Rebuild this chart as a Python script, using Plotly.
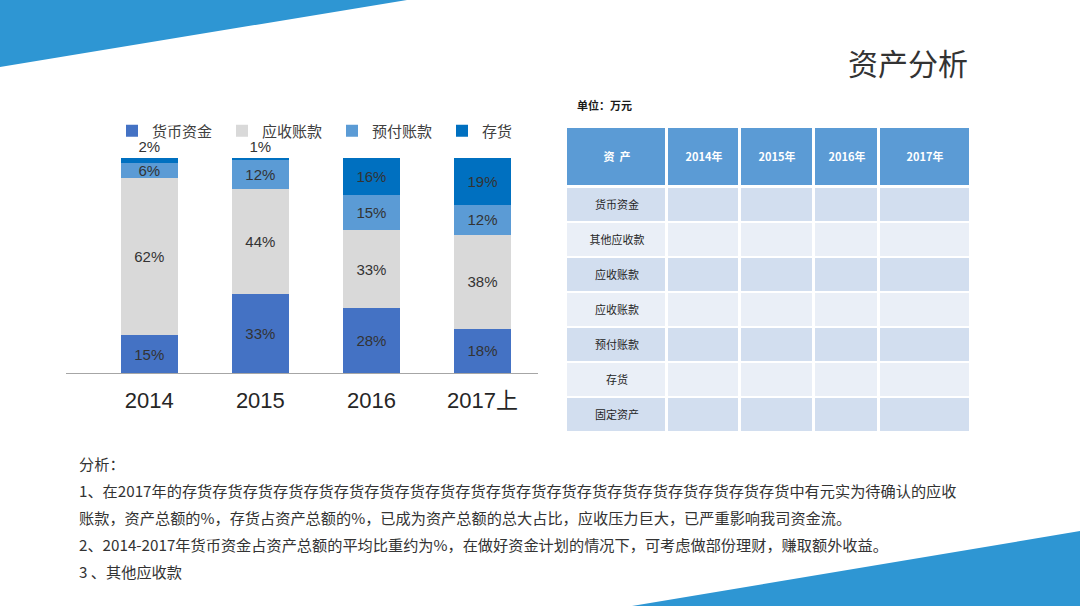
import plotly.graph_objects as go

# 柱状图数据（各项占比，%）
years = ["2014", "2015", "2016", "2017上"]
cash = [15, 33, 28, 18]          # 货币资金
receivable = [62, 44, 33, 38]    # 应收账款
prepaid = [6, 12, 15, 12]        # 预付账款
stock = [2, 1, 16, 19]           # 存货

series_names = ["货币资金", "应收账款", "预付账款", "存货"]
series_colors = ["#4472C4", "#D9D9D9", "#5B9BD5", "#0070C0"]

# 表格数据
table_header = ["资  产", "2014年", "2015年", "2016年", "2017年"]
table_rows = ["货币资金", "其他应收款", "应收账款", "应收账款", "预付账款", "存货", "固定资产"]

# 表格尺寸（像素）
col_widths = [101, 73, 74, 65, 92]
header_h = 60
row_h = 35

# 文字说明
notes = [
    "分析：",
    "1、在2017年的" + "存货" * 20 + "中有元实为待确认的应收",
    "账款，资产总额的%，存货占资产总额的%，已成为资产总额的总大占比，应收压力巨大，已严重影响我司资金流。",
    "2、2014-2017年货币资金占资产总额的平均比重约为%，在做好资金计划的情况下，可考虑做部份理财，赚取额外收益。",
    "3 、其他应收款",
]

W, H = 1080, 606


def px_x(v):
    return v / W


def px_y(v):
    return 1 - v / H


fig = go.Figure()

all_values = [cash, receivable, prepaid, stock]
for name, vals, color in zip(series_names, all_values, series_colors):
    if name == "存货":
        pos = ["outside" if v < 5 else "inside" for v in vals]
    else:
        pos = "inside"
    fig.add_trace(go.Bar(
        x=years, y=vals, name=name,
        marker=dict(color=color, line=dict(width=0)),
        width=0.51,
        text=[f"{v}%" for v in vals],
        textposition=pos,
        insidetextanchor="middle",
        textangle=0,
        textfont=dict(size=15, color="#333333", family="Liberation Sans, Arial, sans-serif"),
        cliponaxis=False,
        hoverinfo="skip",
    ))

# 表格：用热力图画单元格，文字居中
x_edges = [0]
for w in col_widths:
    x_edges.append(x_edges[-1] + w)
y_head = [0, header_h]
y_body = [header_h + row_h * i for i in range(len(table_rows) + 1)]

fig.add_trace(go.Heatmap(
    x=x_edges, y=y_head, z=[[0] * len(table_header)],
    text=[["<b>" + t + "</b>" for t in table_header]],
    texttemplate="%{text}",
    textfont=dict(size=11, color="white", family="Noto Sans CJK SC"),
    colorscale=[[0, "#5B9BD5"], [1, "#5B9BD5"]], zmin=0, zmax=1,
    showscale=False, xgap=3, ygap=3, hoverinfo="skip",
    xaxis="x2", yaxis="y2", showlegend=False,
))
fig.add_trace(go.Heatmap(
    x=x_edges, y=y_body,
    z=[[i % 2] * len(table_header) for i in range(len(table_rows))],
    text=[[r, "", "", "", ""] for r in table_rows],
    texttemplate="%{text}",
    textfont=dict(size=11, color="#262626", family="Noto Sans CJK SC"),
    colorscale=[[0, "#D2DEEF"], [1, "#EAEFF7"]], zmin=0, zmax=1,
    showscale=False, xgap=3, ygap=2, hoverinfo="skip",
    xaxis="x2", yaxis="y2", showlegend=False,
))

fig.update_layout(
    width=W, height=H,
    margin=dict(l=0, r=0, t=0, b=0),
    paper_bgcolor="white", plot_bgcolor="white",
    barmode="stack", barnorm="percent",
    font=dict(family="Liberation Sans, Noto Sans CJK SC, sans-serif", color="#404040"),
    uniformtext=dict(minsize=15, mode="show"),
    showlegend=True,
    legend=dict(
        orientation="h", x=px_x(112), xanchor="left", y=px_y(131), yanchor="middle",
        font=dict(size=15, color="#404040", family="Noto Sans CJK SC"),
        entrywidth=65, entrywidthmode="pixels",
        bgcolor="rgba(0,0,0,0)", traceorder="normal",
    ),
    xaxis=dict(
        domain=[px_x(66), px_x(538)],
        range=[-0.75, 3.5],
        showline=True, linecolor="#A6A6A6", linewidth=1,
        ticks="", tickfont=dict(size=22, color="#262626"),
        ticklabelstandoff=8,
        showgrid=False, zeroline=False, fixedrange=True,
    ),
    yaxis=dict(
        domain=[px_y(373), px_y(140.8)],
        range=[0, 108],
        visible=False, fixedrange=True,
    ),
    xaxis2=dict(
        domain=[px_x(566), px_x(971)], anchor="y2",
        range=[0, x_edges[-1]], visible=False, fixedrange=True,
    ),
    yaxis2=dict(
        domain=[px_y(432), px_y(127)], anchor="x2",
        range=[y_body[-1], 0], visible=False, fixedrange=True,
    ),
    shapes=[
        dict(type="path", xref="paper", yref="paper", layer="below",
             path=f"M 0 1 L {px_x(407)} 1 L 0 {px_y(67)} Z",
             fillcolor="#2E96D3", line=dict(width=0)),
        dict(type="path", xref="paper", yref="paper", layer="below",
             path=f"M {px_x(632)} 0 L 1 {px_y(531)} L 1 0 Z",
             fillcolor="#2E96D3", line=dict(width=0)),
    ],
)

fig.add_annotation(
    text="资产分析", xref="paper", yref="paper", x=px_x(846), y=px_y(62),
    xanchor="left", yanchor="middle", showarrow=False,
    font=dict(size=30, color="#333333", family="Noto Sans CJK SC"),
)
fig.add_annotation(
    text="<b>单位：万元</b>", xref="paper", yref="paper", x=px_x(575), y=px_y(105),
    xanchor="left", yanchor="middle", showarrow=False,
    font=dict(size=11, color="#1a1a1a", family="Noto Sans CJK SC"),
)

for i, line in enumerate(notes):
    fig.add_annotation(
        text=line, xref="paper", yref="paper", x=px_x(77), y=px_y(463 + 27 * i),
        xanchor="left", yanchor="middle", showarrow=False,
        font=dict(size=15.2, color="#333333", family="Noto Sans CJK SC"),
    )

fig.write_html("out.html", config={"displayModeBar": False},
               post_script="document.body.style.margin='0';")
